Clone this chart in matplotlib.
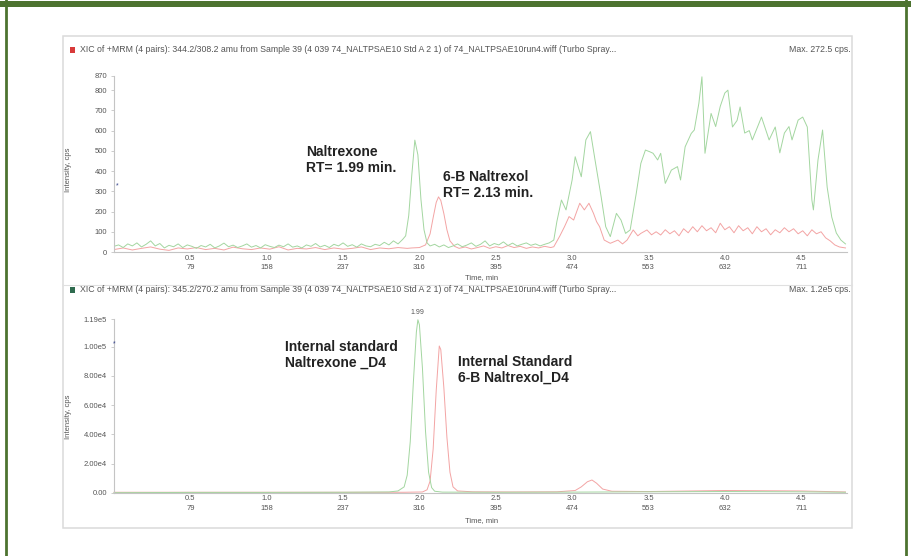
import matplotlib
matplotlib.use("Agg")
import matplotlib.pyplot as plt
from matplotlib.patches import Rectangle
from matplotlib.lines import Line2D

plt.rcParams['font.family'] = ['Liberation Sans', 'DejaVu Sans']

# ---------------- data ----------------
# x tick positions (min) and matching cycle numbers
time_ticks = [0.5, 1.0, 1.5, 2.0, 2.5, 3.0, 3.5, 4.0, 4.5]
cycle_ticks = [79, 158, 237, 316, 395, 474, 553, 632, 711]

top_yticks = [0, 100, 200, 300, 400, 500, 600, 700, 800, 870]
bot_yticks = [0, 2.0e4, 4.0e4, 6.0e4, 8.0e4, 1.0e5, 1.19e5]
bot_ylabels = ["0.00", "2.00e4", "4.00e4", "6.00e4", "8.00e4", "1.00e5", "1.19e5"]

# XIC 344.2/308.2 - second transition trace (green)
top_green_t = [0.00, 0.03, 0.06, 0.09, 0.12, 0.15, 0.18, 0.21, 0.24, 0.27, 0.30, 0.33,
               0.36, 0.39, 0.42, 0.45, 0.48, 0.51, 0.54, 0.57, 0.60, 0.63, 0.66, 0.69,
               0.72, 0.75, 0.78, 0.81, 0.84, 0.87, 0.90, 0.93, 0.96, 0.99, 1.02, 1.05,
               1.08, 1.11, 1.14, 1.17, 1.20, 1.23, 1.26, 1.29, 1.32, 1.35, 1.38, 1.41,
               1.44, 1.47, 1.50, 1.53, 1.56, 1.59, 1.62, 1.65, 1.68, 1.71, 1.74, 1.77,
               1.80, 1.83, 1.86, 1.89, 1.91, 1.93, 1.95, 1.97, 1.99, 2.01, 2.03, 2.05,
               2.07, 2.10, 2.13, 2.16, 2.19, 2.22, 2.25, 2.28, 2.31, 2.34, 2.37, 2.40,
               2.43, 2.46, 2.49, 2.52, 2.55, 2.58, 2.61, 2.64, 2.67, 2.70, 2.73, 2.76,
               2.79, 2.82, 2.85, 2.88, 2.90, 2.93, 2.96, 3.00, 3.02, 3.04, 3.06, 3.09,
               3.12, 3.15, 3.19, 3.22, 3.25, 3.29, 3.32, 3.35, 3.38, 3.42, 3.45, 3.48,
               3.51, 3.53, 3.56, 3.58, 3.61, 3.65, 3.69, 3.71, 3.74, 3.78, 3.80, 3.83,
               3.85, 3.87, 3.91, 3.94, 3.97, 4.00, 4.02, 4.05, 4.08, 4.10, 4.13, 4.16,
               4.18, 4.21, 4.24, 4.27, 4.29, 4.33, 4.36, 4.39, 4.42, 4.44, 4.48, 4.51,
               4.54, 4.57, 4.58, 4.61, 4.64, 4.67, 4.70, 4.73, 4.76, 4.79]
top_green_v = [28, 35, 22, 40, 30, 45, 25, 38, 55, 30, 42, 20,
               33, 26, 40, 22, 35, 28, 18, 32, 25, 38, 20, 30,
               44, 26, 34, 22, 30, 40, 24, 32, 20, 36, 28, 22,
               34, 26, 40, 24, 30, 20, 35, 28, 42, 25, 33, 22,
               38, 30, 45, 28, 36, 24, 40, 30, 26, 38, 32, 48,
               35, 55, 40, 62, 80, 180, 380, 553, 480, 260, 110, 45,
               30, 38, 25, 35, 22, 30, 40, 26, 34, 45, 28, 38,
               55, 30, 42, 35, 50, 32, 44, 30, 38, 45, 33, 40,
               30, 38, 45, 59, 150, 257, 208, 356, 471, 420, 372, 554,
               595, 455, 273, 125, 76, 191, 158, 92, 109, 290, 438, 504,
               495, 488, 455, 488, 339, 405, 422, 356, 520, 586, 603, 735,
               866, 488, 685, 620, 720, 786, 800, 618, 650, 717, 588, 600,
               554, 610, 667, 600, 554, 618, 490, 588, 620, 554, 652, 667,
               618, 257, 208, 455, 603, 321, 173, 94, 59, 40]

# XIC 344.2/308.2 - quantifier trace (red)
top_red_t = [0.00, 0.06, 0.12, 0.18, 0.24, 0.30, 0.36, 0.42, 0.48, 0.54, 0.60, 0.66,
             0.72, 0.78, 0.84, 0.90, 0.96, 1.02, 1.08, 1.14, 1.20, 1.26, 1.32, 1.38,
             1.44, 1.50, 1.56, 1.62, 1.68, 1.74, 1.80, 1.86, 1.92, 1.95, 2.00, 2.04,
             2.07, 2.09, 2.11, 2.125, 2.14, 2.16, 2.18, 2.20, 2.23, 2.26, 2.30, 2.34,
             2.38, 2.42, 2.46, 2.50, 2.54, 2.58, 2.62, 2.66, 2.70, 2.74, 2.78, 2.82,
             2.86, 2.88, 2.92, 2.95, 2.98, 3.01, 3.03, 3.05, 3.08, 3.11, 3.14, 3.16,
             3.18, 3.21, 3.25, 3.30, 3.33, 3.36, 3.40, 3.43, 3.45, 3.49, 3.52, 3.55,
             3.58, 3.61, 3.64, 3.67, 3.70, 3.73, 3.76, 3.79, 3.82, 3.85, 3.88, 3.91,
             3.94, 3.97, 4.00, 4.03, 4.06, 4.09, 4.12, 4.15, 4.18, 4.21, 4.24, 4.27,
             4.30, 4.33, 4.36, 4.39, 4.42, 4.45, 4.48, 4.51, 4.54, 4.57, 4.60, 4.63,
             4.66, 4.69, 4.72, 4.75, 4.79]
top_red_v = [12, 20, 10, 18, 25, 14, 8, 20, 15, 22, 12, 18,
             10, 24, 16, 12, 20, 14, 26, 10, 18, 15, 22, 12,
             20, 14, 18, 25, 12, 20, 16, 22, 18, 20, 22, 35,
             90, 170, 245, 272.5, 255, 190, 110, 55, 28, 18, 25, 15,
             22, 30, 18, 26, 20, 32, 22, 28, 18, 25, 20, 28,
             22, 26, 80, 125, 175, 158, 200, 241, 208, 241, 191, 150,
             125, 59, 43, 59, 40, 59, 109, 80, 92, 109, 85, 100,
             84, 110, 90, 105, 80, 115, 95, 125, 100, 130, 105, 120,
             95, 142, 110, 125, 95, 130, 105, 120, 90, 125, 100, 115,
             85, 110, 95, 120, 100, 115, 90, 105, 80, 110, 90, 100,
             70, 55, 35, 25, 20]

# XIC 345.2/270.2 - internal standards
bot_green_t = [0.00, 0.50, 1.00, 1.50, 1.80, 1.86, 1.90, 1.92, 1.94, 1.96, 1.98, 1.99,
               2.00, 2.02, 2.04, 2.06, 2.08, 2.10, 2.15, 2.50, 3.00, 3.50, 4.00, 4.50, 4.79]
bot_green_v = [0, 200, 200, 300, 500, 1200, 4000, 12000, 35000, 75000, 110000, 118500,
               115000, 85000, 42000, 14000, 3500, 1000, 400, 300, 400, 600, 800, 600, 300]

bot_red_t = [0.00, 1.00, 1.90, 2.02, 2.05, 2.07, 2.09, 2.11, 2.13, 2.14, 2.16, 2.18,
             2.20, 2.22, 2.25, 2.35, 2.60, 2.90, 3.02, 3.06, 3.10, 3.13, 3.16, 3.20,
             3.26, 3.50, 4.00, 4.50, 4.79]
bot_red_v = [300, 300, 300, 500, 2000, 8000, 30000, 70000, 100500, 98000, 72000, 38000,
             14000, 4000, 1200, 600, 500, 600, 1500, 4000, 7500, 8700, 6500, 2500,
             1000, 800, 1500, 1200, 500]

header_top = ("XIC of +MRM (4 pairs): 344.2/308.2 amu from Sample 39 (4 039 74_NALTPSAE10 "
              "Std A 2 1) of 74_NALTPSAE10run4.wiff (Turbo Spray...")
header_bot = ("XIC of +MRM (4 pairs): 345.2/270.2 amu from Sample 39 (4 039 74_NALTPSAE10 "
              "Std A 2 1) of 74_NALTPSAE10run4.wiff (Turbo Spray...")

# ---------------- figure ----------------
W, H = 911, 556
fig = plt.figure(figsize=(W / 100, H / 100), dpi=100)
fig.patch.set_facecolor("white")


def fx(px):
    return px / W


def fy(py):
    return 1 - py / H


GREEN = "#a3d6a0"
RED = "#f3a4a4"
TXT = "#555555"
SPINE = "#c4c4c4"
SMALL = 5.5
HEAD = 6.3

# outer green frame
fig.add_artist(Rectangle((fx(0), fy(7)), 1, 6 / H, transform=fig.transFigure,
                         facecolor="#4d7330", edgecolor="none"))
for xp in (6, 906):
    fig.add_artist(Line2D([fx(xp), fx(xp)], [fy(0), fy(H + 5)], transform=fig.transFigure,
                          color="#4d7330", lw=2.0))

# light card around both traces
fig.add_artist(Rectangle((fx(63), fy(528)), fx(852) - fx(63), (528 - 36) / H,
                         transform=fig.transFigure, fill=False, edgecolor="#dadada", lw=1.1))
fig.add_artist(Line2D([fx(63), fx(852)], [fy(285), fy(285)], transform=fig.transFigure,
                      color="#e0e0e0", lw=0.8))

ax_left = fx(114)
ax_w = fx(847) - fx(114)
ax1 = fig.add_axes([ax_left, fy(252), ax_w, (252 - 76) / H])
ax2 = fig.add_axes([ax_left, fy(492.7), ax_w, (492.7 - 319) / H])


def style(ax):
    for s in ("top", "right"):
        ax.spines[s].set_visible(False)
    for s in ("left", "bottom"):
        ax.spines[s].set_color(SPINE)
        ax.spines[s].set_linewidth(0.8)
    ax.set_xlim(0, 4.8)
    ax.set_xticks(time_ticks)
    ax.set_xticklabels([f"{t}\n{c}" for t, c in zip(time_ticks, cycle_ticks)],
                       fontsize=SMALL, color=TXT, linespacing=1.45)
    ax.tick_params(axis="x", length=0, pad=2)
    ax.tick_params(axis="y", length=2, width=0.6, color=SPINE, pad=3,
                   labelsize=SMALL, labelcolor=TXT)
    ax.set_facecolor("none")


# top chromatogram
ax1.plot(top_red_t, top_red_v, color=RED, lw=0.7)
ax1.plot(top_green_t, top_green_v, color=GREEN, lw=0.7)
ax1.set_ylim(0, 870)
ax1.set_yticks(top_yticks)
ax1.set_yticklabels([str(v) for v in top_yticks])
style(ax1)
ax1.text(1.26, 455, "Naltrexone\nRT= 1.99 min.", fontsize=10, fontweight="bold",
         color="#222222", va="center", ha="left", linespacing=1.15)
ax1.text(2.155, 331, "6-B Naltrexol\nRT= 2.13 min.", fontsize=10, fontweight="bold",
         color="#222222", va="center", ha="left", linespacing=1.15)

# bottom chromatogram
ax2.plot(bot_red_t, bot_red_v, color=RED, lw=0.7, clip_on=False)
ax2.plot(bot_green_t, bot_green_v, color=GREEN, lw=0.7, clip_on=False)
ax2.set_ylim(0, 1.19e5)
ax2.set_yticks(bot_yticks)
ax2.set_yticklabels(bot_ylabels)
style(ax2)
ax2.text(1.99, max(bot_green_v) * 1.02, "1.99", fontsize=5, color=TXT,
         ha="center", va="bottom")
ax2.text(1.12, 94300, "Internal standard\nNaltrexone _D4", fontsize=10, fontweight="bold",
         color="#222222", va="center", ha="left", linespacing=1.15)
ax2.text(2.253, 84000, "Internal Standard\n6-B Naltrexol_D4", fontsize=10, fontweight="bold",
         color="#222222", va="center", ha="left", linespacing=1.15)

# axis titles
for yc in (170, 417):
    fig.text(fx(68), fy(yc), "Intensity, cps", rotation=90, fontsize=SMALL, color=TXT,
             ha="center", va="center")
for yc in (278, 521):
    fig.text(fx(482), fy(yc), "Time, min", fontsize=SMALL, color=TXT, ha="center", va="center")

# trace headers
fig.add_artist(Rectangle((fx(70), fy(53)), 5 / W, 6 / H, transform=fig.transFigure,
                         facecolor="#d83a3a", edgecolor="none"))
fig.text(fx(80), fy(50), header_top, fontsize=HEAD, color=TXT, va="center", ha="left")
fig.text(fx(851), fy(50), "Max. 272.5 cps.", fontsize=HEAD, color=TXT, va="center", ha="right")

fig.add_artist(Rectangle((fx(70), fy(293)), 5 / W, 6 / H, transform=fig.transFigure,
                         facecolor="#2f6b4f", edgecolor="none"))
fig.text(fx(80), fy(290), header_bot, fontsize=HEAD, color=TXT, va="center", ha="left")
fig.text(fx(851), fy(290), "Max. 1.2e5 cps.", fontsize=HEAD, color=TXT, va="center", ha="right")

# threshold markers on the intensity axes
fig.text(fx(117), fy(186), "*", fontsize=5, color="#34428a", ha="center", va="center")
fig.text(fx(114), fy(344), "*", fontsize=5, color="#34428a", ha="center", va="center")

fig.savefig("out.png", dpi=100, facecolor="white")
